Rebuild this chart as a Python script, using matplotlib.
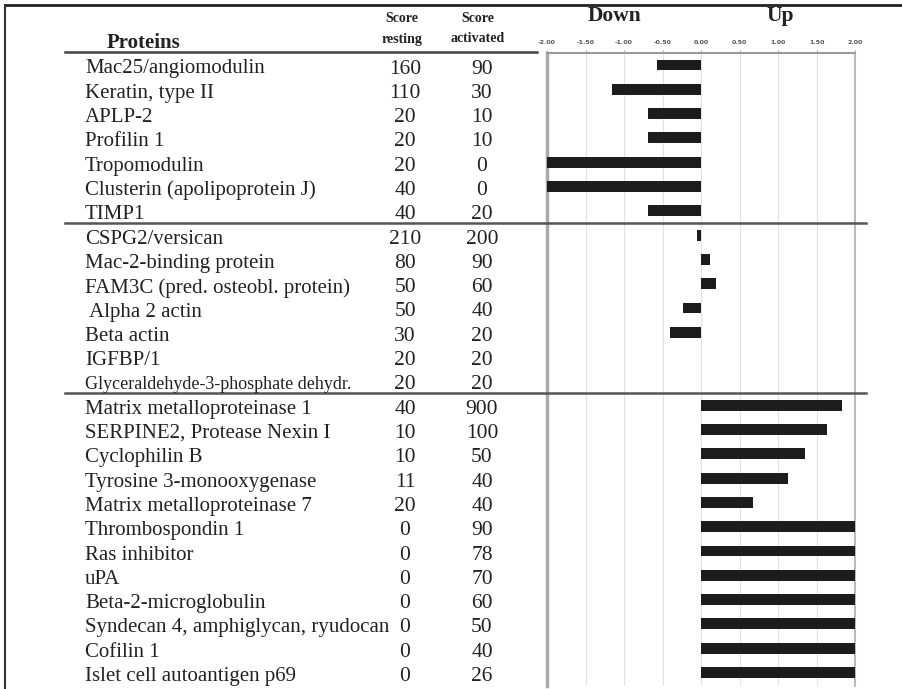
import matplotlib.pyplot as plt
import numpy as np

# table content, top to bottom
proteins = [
    "Mac25/angiomodulin", "Keratin, type II", "APLP-2", "Profilin 1",
    "Tropomodulin", "Clusterin (apolipoprotein J)", "TIMP1",
    "CSPG2/versican", "Mac-2-binding protein", "FAM3C (pred. osteobl. protein)",
    " Alpha 2 actin", "Beta actin", "IGFBP/1", "Glyceraldehyde-3-phosphate dehydr.",
    "Matrix metalloproteinase 1", "SERPINE2, Protease Nexin I", "Cyclophilin B",
    "Tyrosine 3-monooxygenase", "Matrix metalloproteinase 7", "Thrombospondin 1",
    "Ras inhibitor", "uPA", "Beta-2-microglobulin",
    "Syndecan 4, amphiglycan, ryudocan", "Cofilin 1", "Islet cell autoantigen p69",
]
score_resting = [160, 110, 20, 20, 20, 40, 40,
                 210, 80, 50, 50, 30, 20, 20,
                 40, 10, 10, 11, 20, 0, 0, 0, 0, 0, 0, 0]
score_activated = [90, 30, 10, 10, 0, 0, 20,
                   200, 90, 60, 40, 20, 20, 20,
                   900, 100, 50, 40, 40, 90, 78, 70, 60, 50, 40, 26]
# bar lengths (clipped at +/-2)
change = [-0.57, -1.16, -0.69, -0.69, -2.0, -2.0, -0.69,
          -0.05, 0.12, 0.19, -0.23, -0.40, 0.0, 0.0,
          1.83, 1.63, 1.35, 1.13, 0.67, 2.0, 2.0, 2.0, 2.0, 2.0, 2.0, 2.0]
section_starts = [7, 14]
small_names = ["Glyceraldehyde-3-phosphate dehydr."]
xticks = [-2.0, -1.5, -1.0, -0.5, 0.0, 0.5, 1.0, 1.5, 2.0]

W, H = 902, 689
ROW0, PITCH = 65, 24.3
SERIF = "Liberation Serif"
INK = "#222222"

fig = plt.figure(figsize=(W / 100, H / 100), dpi=100)

# table layer in pixel coordinates
ax_t = fig.add_axes([0, 0, 1, 1], zorder=2)
ax_t.set_xlim(0, W)
ax_t.set_ylim(H, 0)
ax_t.axis("off")
ax_t.patch.set_alpha(0)

# outer frame (top and left)
ax_t.plot([5, W], [5, 5], color=INK, lw=2)
ax_t.plot([5, 5], [5, H], color="#333333", lw=1.5)

# header
ax_t.text(107, 43, "Proteins", family=SERIF, weight="bold", fontsize=15,
          color=INK, va="center", ha="left")
for x, word in [(402, "resting"), (478, "activated")]:
    ax_t.text(x, 19, "Score", family=SERIF, weight="bold", fontsize=10,
              color=INK, ha="center", va="center")
    ax_t.text(x, 39, word, family=SERIF, weight="bold", fontsize=10,
              color=INK, ha="center", va="center")
ax_t.text(615, 16, "Down", family=SERIF, weight="bold", fontsize=15.5,
          color=INK, ha="center", va="center")
ax_t.text(780, 16, "Up", family=SERIF, weight="bold", fontsize=15.5,
          color=INK, ha="center", va="center")
ax_t.plot([65, 537], [52, 52], color="#444444", lw=1.8)

for i, name in enumerate(proteins):
    y = ROW0 + PITCH * i + 4
    fs = 13 if name in small_names else 15
    ax_t.text(85, y, name, family=SERIF, fontsize=fs, color=INK,
              ha="left", va="center")
    ax_t.text(405, y, str(score_resting[i]), family=SERIF, fontsize=15.5,
              color=INK, ha="center", va="center")
    ax_t.text(482, y, str(score_activated[i]), family=SERIF, fontsize=15.5,
              color=INK, ha="center", va="center")

for s in section_starts:
    y = ROW0 + PITCH * (s - 0.5)
    ax_t.plot([65, 866], [y, y], color="#555555", lw=1.8)

# bar panel
left, right, top, bottom = 547, 855, 53, 686
ax_b = fig.add_axes([left / W, 1 - bottom / H, (right - left) / W, (bottom - top) / H],
                    zorder=1)
ax_b.patch.set_alpha(0)
rows = np.arange(len(proteins))
ax_b.barh(rows, change, height=0.45, color="#1c1c1c", zorder=3)
ax_b.set_xlim(-2, 2)
ax_b.set_ylim((bottom - ROW0) / PITCH, (top - ROW0) / PITCH)
ax_b.set_yticks([])
ax_b.set_xticks(xticks)
ax_b.set_xticklabels([f"{t:.2f}" for t in xticks], fontsize=4.5,
                     weight="bold", color="#555555")
ax_b.xaxis.tick_top()
ax_b.tick_params(axis="x", length=2, width=0.6, color="#999999", pad=4)
ax_b.grid(axis="x", color="#e2e2e2", lw=0.8, zorder=0)
ax_b.spines["bottom"].set_visible(False)
ax_b.spines["left"].set_color("#aaaaaa")
ax_b.spines["left"].set_linewidth(2.5)
ax_b.spines["right"].set_color("#bbbbbb")
ax_b.spines["right"].set_linewidth(1.5)
ax_b.spines["top"].set_color("#999999")
ax_b.spines["top"].set_linewidth(1.5)

fig.savefig("out.png", dpi=100)
